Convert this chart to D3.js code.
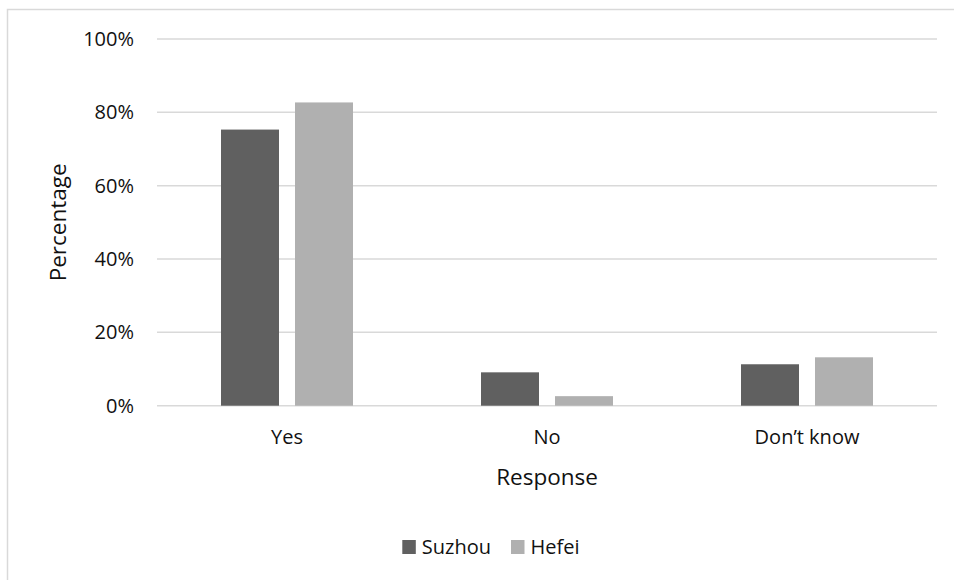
<!DOCTYPE html>
<html>
<head>
<meta charset="utf-8">
<script src="https://cdn.jsdelivr.net/npm/d3@7"></script>
<style>
  html, body { margin: 0; padding: 0; background: #fff; }
  svg { display: block; }
  text { font-family: "Open Sans", "Liberation Sans", sans-serif; fill: #111; }
</style>
</head>
<body>
<svg id="chart" width="954" height="580"></svg>
<script>
const categories = ["Yes", "No", "Don\u2019t know"];
const seriesNames = ["Suzhou", "Hefei"];
const suzhouValues = [75.3, 9.1, 11.3];
const hefeiValues = [82.7, 2.6, 13.2];
const yTicks = [0, 20, 40, 60, 80, 100];
const xTitle = "Response";
const yTitle = "Percentage";
const colors = ["#606060", "#b0b0b0"];

const svg = d3.select("#chart");
const W = 954, H = 580;
const plot = { left: 157, right: 937, top: 39, bottom: 405.7 };

// outer chart border (only top/left visible in crop)
svg.append("rect")
  .attr("x", 7.5).attr("y", 9.5)
  .attr("width", W + 10).attr("height", H + 10)
  .attr("fill", "#fff").attr("stroke", "#d9d9d9").attr("stroke-width", 1.5);

const x0 = d3.scaleBand().domain(categories).range([plot.left, plot.right]).paddingInner(0).paddingOuter(0);
const x1 = d3.scaleBand().domain(seriesNames).range([0, x0.bandwidth()])
  .paddingInner(16 / 74).paddingOuter(64 / 74);
const y = d3.scaleLinear().domain([0, 100]).range([plot.bottom, plot.top]);

// gridlines
svg.append("g").selectAll("line").data(yTicks).join("line")
  .attr("x1", plot.left).attr("x2", plot.right)
  .attr("y1", d => y(d)).attr("y2", d => y(d))
  .attr("stroke", "#d9d9d9").attr("stroke-width", 1.5);

// y tick labels via axis
const yAxis = svg.append("g").attr("transform", `translate(${plot.left},0)`)
  .call(d3.axisLeft(y).tickValues(yTicks).tickFormat(d => d + "%").tickSize(0).tickPadding(23));
yAxis.select(".domain").remove();
yAxis.selectAll("text").style("font-size", "20px").attr("fill", "#111")
  .style("font-family", "'Open Sans', sans-serif");

// bars
const data = categories.map((c, i) => ({ cat: c, vals: [suzhouValues[i], hefeiValues[i]] }));
const groups = svg.append("g").selectAll("g").data(data).join("g")
  .attr("transform", d => `translate(${x0(d.cat)},0)`);
groups.selectAll("rect").data(d => d.vals.map((v, j) => ({ s: seriesNames[j], v, j })))
  .join("rect")
  .attr("x", d => x1(d.s))
  .attr("width", x1.bandwidth())
  .attr("y", d => y(d.v))
  .attr("height", d => y(0) - y(d.v))
  .attr("fill", d => colors[d.j]);

// x axis labels
const xAxis = svg.append("g").attr("transform", `translate(0,${plot.bottom})`)
  .call(d3.axisBottom(x0).tickSize(0).tickPadding(24));
xAxis.select(".domain").remove();
xAxis.selectAll("text").style("font-size", "20px").attr("fill", "#111")
  .style("font-family", "'Open Sans', sans-serif");

// axis titles
svg.append("text")
  .attr("x", (plot.left + plot.right) / 2).attr("y", 485)
  .attr("text-anchor", "middle").style("font-size", "22.5px")
  .text(xTitle);
svg.append("text")
  .attr("transform", `translate(65.5,${(plot.top + plot.bottom) / 2}) rotate(-90)`)
  .attr("text-anchor", "middle").style("font-size", "22.5px")
  .text(yTitle);

// legend
const legendX = [402.3, 511];
const lg = svg.append("g").selectAll("g").data(seriesNames).join("g")
  .attr("transform", (d, i) => `translate(${legendX[i]},540)`);
lg.append("rect").attr("width", 13.5).attr("height", 14).attr("fill", (d, i) => colors[i]);
lg.append("text").attr("x", 19.5).attr("y", 14).style("font-size", "20px").text(d => d);
</script>
</body>
</html>
